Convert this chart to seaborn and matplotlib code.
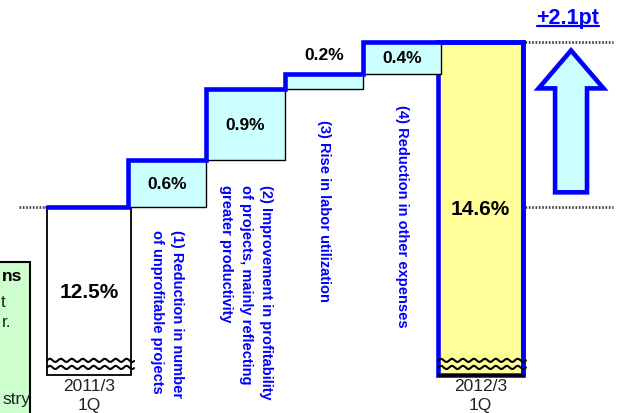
import matplotlib
matplotlib.use('Agg')
import matplotlib.pyplot as plt
from matplotlib.patches import Polygon, Rectangle
import numpy as np
import seaborn as sns


# data
period_labels = ['2011/3\n1Q', '2012/3\n1Q']
base_margin = 12.5
final_margin = 14.6
step_values = [0.6, 0.9, 0.2, 0.4]
step_labels = [
  '(1) Reduction in number\nof unprofitable projects',
  '(2) Improvement in profitability\nof projects, mainly reflecting\ngreater productivity',
  '(3) Rise in labor utilization',
  '(4) Reduction in other expenses',
]
box_fragments = ['ns', 't', 'r.', 'stry']

# layout
floor = 10.36
y_range = (9.88, 15.15)
x_range = (-1.137, 6.794)
widths = [1.07, 1.0, 1.0, 1.0, 1.0, 1.08]
step_text_y = [12.22, 12.80, 13.62, 13.81]
blue = '#0000FF'
cyan = '#CCFFFF'
yellow = '#FFFF99'


def wave(ax, left, right, level):
  xs = np.linspace(left, right + 0.04, 300)
  ys = level + 0.02 * np.sin(2 * np.pi * (xs - left) / 0.14)
  ax.plot(xs, ys, color='black', lw=1.5, zorder=5)


def main() -> None:
  sns.set_theme(style='white')
  plt.rcParams['font.family'] = ['Liberation Sans', 'DejaVu Sans']
  plt.rcParams['text.color'] = 'black'

  fig = plt.figure(figsize=(6.21, 4.14), dpi=100)
  ax = fig.add_axes([0, 0, 1, 1])
  ax.set_xlim(*x_range)
  ax.set_ylim(*y_range)
  ax.axis('off')

  x = np.arange(6)
  lefts = x - np.array(widths) / 2
  rights = x + np.array(widths) / 2
  tops = base_margin + np.cumsum(step_values)
  bottoms = tops - np.array(step_values)

  # start / end bars
  ax.bar(0, base_margin - floor, bottom=floor, width=widths[0],
         color='white', edgecolor='black', lw=1.3, zorder=2)
  ax.bar(5, final_margin - floor, bottom=floor, width=widths[5],
         color=yellow, edgecolor=blue, lw=3.3, zorder=2)
  ax.plot([lefts[5], rights[5]], [floor, floor], color='black', lw=2, zorder=6)

  # step bars
  ax.bar(x[1:5], step_values, bottom=bottoms, width=widths[1:5],
         color=cyan, edgecolor='black', lw=1, zorder=2)

  # blue staircase
  sx = [lefts[0]]
  sy = [base_margin]
  level = base_margin
  for i, v in enumerate(step_values):
    sx += [lefts[i + 1], lefts[i + 1]]
    sy += [level, level + v]
    level += v
  sx += [rights[5], rights[5]]
  sy += [final_margin, floor]
  ax.plot(sx, sy, color=blue, lw=3.3, solid_joinstyle='miter', zorder=4)

  # axis break marks
  for i in (0, 5):
    wave(ax, lefts[i], rights[i], floor + 0.19)
    wave(ax, lefts[i], rights[i], floor + 0.10)

  # value labels
  ax.text(0, (floor + base_margin) / 2, f'{base_margin:.1f}%', ha='center', va='center',
          fontsize=15, fontweight='bold', color='black', zorder=7)
  ax.text(5, base_margin - 0.02, f'{final_margin:.1f}%', ha='center', va='center',
          fontsize=15, fontweight='bold', color='black', zorder=7)
  for i, v in enumerate(step_values):
    if v < 0.3:
      ax.text(x[i + 1], tops[i] + 0.24, f'{v:.1f}%', ha='center', va='center',
              fontsize=12.5, fontweight='bold', color='black', zorder=7)
    else:
      ax.text(x[i + 1], (tops[i] + bottoms[i]) / 2, f'{v:.1f}%', ha='center', va='center',
              fontsize=12.5, fontweight='bold', color='black', zorder=7)

  # rotated step descriptions
  for i, lab in enumerate(step_labels):
    ax.text(x[i + 1], step_text_y[i], lab, rotation=-90, ha='center', va='top',
            multialignment='left', color=blue, fontsize=10.5, fontweight='bold',
            linespacing=1.55, zorder=7)

  # period labels
  for i, lab in zip((0, 5), period_labels):
    ax.text(x[i], 10.32, lab, ha='center', va='top', fontsize=12.5,
            color='#222222', linespacing=1.3, zorder=7)

  # dotted guide lines
  dot = dict(color='#444444', lw=2, ls=(0, (0.6, 0.6)), zorder=3)
  ax.plot([-0.894, lefts[0]], [base_margin, base_margin], **dot)
  ax.plot([rights[5] + 0.03, 6.692], [base_margin, base_margin], **dot)
  ax.plot([rights[5] + 0.03, 6.692], [final_margin, final_margin], **dot)

  # arrow
  gain = final_margin - base_margin
  cx, shaft, head = 6.156, 0.204, 0.415
  a_bottom = base_margin + 0.09 * gain
  a_tip = final_margin - 0.05 * gain
  a_head = a_tip - 0.23 * gain
  arrow = Polygon([
    (cx - shaft, a_bottom), (cx + shaft, a_bottom), (cx + shaft, a_head),
    (cx + head, a_head), (cx, a_tip), (cx - head, a_head), (cx - shaft, a_head),
  ], closed=True, facecolor=cyan, edgecolor=blue, lw=3.3, joinstyle='miter', zorder=4)
  ax.add_patch(arrow)

  t = ax.text(6.117, 14.92, f'+{gain:.1f}pt', ha='center', va='center', color=blue,
              fontsize=15.5, fontweight='bold', zorder=7)
  fig.canvas.draw()
  bb = t.get_window_extent().transformed(ax.transData.inverted())
  ax.plot([bb.x0, bb.x1], [bb.y0 + 0.02, bb.y0 + 0.02], color=blue, lw=1.6, zorder=7)

  # partial legend box on the left
  ax.add_patch(Rectangle((-0.01, -0.01), 0.0583, 0.3747, transform=ax.transAxes,
                         facecolor='#CCFFCC', edgecolor='black', lw=1.5, zorder=1))
  frag_pos = [(0.0354, 0.333), (0.009, 0.2705), (0.0193, 0.22), (0.0490, 0.034)]
  for j, (frag, (fx, fy)) in enumerate(zip(box_fragments, frag_pos)):
    ax.text(fx, fy, frag, transform=ax.transAxes, ha='right', va='center',
            fontsize=12.5, fontweight='bold' if j == 0 else 'normal',
            color='black' if j == 0 else '#222222', zorder=7)

  fig.savefig('out.png', dpi=100)


if __name__ == '__main__':
  main()
